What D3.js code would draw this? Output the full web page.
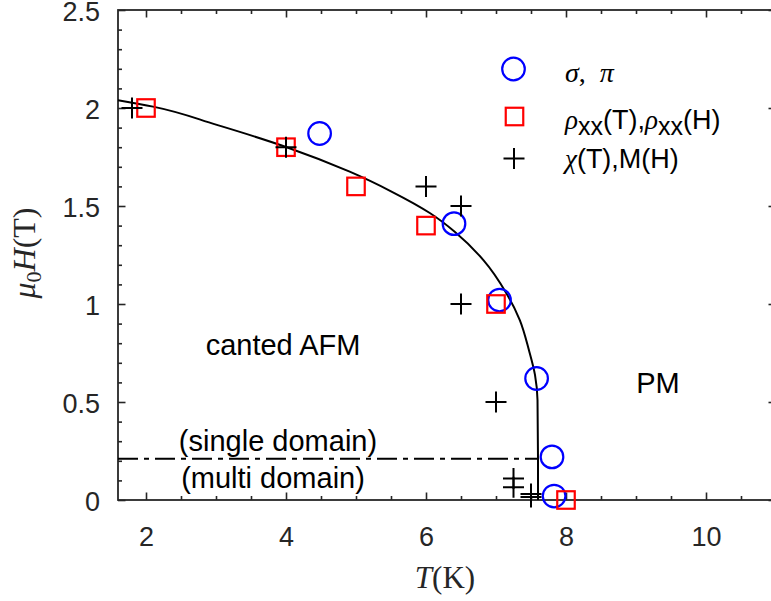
<!DOCTYPE html>
<html>
<head>
<meta charset="utf-8">
<script src="https://cdn.jsdelivr.net/npm/d3@7"></script>
<style>
  html, body { margin: 0; padding: 0; background: #fff; }
  svg { display: block; }
</style>
</head>
<body>
<svg id="chart" width="771" height="601"></svg>
<script>
// Phase diagram: critical field vs temperature

// sigma, pi measurements
const circleT = [4.48, 6.4, 7.05, 7.58, 7.8, 7.83];
const circleH = [1.87, 1.41, 1.02, 0.62, 0.22, 0.02];

// rho_xx(T), rho_xx(H) measurements
const squareT = [2, 4, 5, 6, 7, 8];
const squareH = [2.0, 1.8, 1.6, 1.4, 1.0, 0.0];

// chi(T), M(H) measurements
const crossT = [1.8, 4, 6, 6.5, 6.5, 7, 7.25, 7.25, 7.5, 7.5];
const crossH = [2.0, 1.8, 1.6, 1.5, 1.0, 0.5, 0.11, 0.065, 0.03, 0.015];

// phase boundary line
const boundaryT = [1.6, 2.1, 3.0, 4.01, 4.91, 5.5, 6.06, 6.41, 6.82, 7.15, 7.34, 7.47, 7.557, 7.593, 7.6, 7.6];
const boundaryH = [2.04, 2.007, 1.915, 1.80, 1.675, 1.575, 1.463, 1.369, 1.224, 1.054, 0.918, 0.765, 0.638, 0.51, 0.21, 0.0];

// single / multi domain separation
const domainLineT = [1.6, 7.6];
const domainLineH = [0.21, 0.21];

// axis ticks
const xMajor = [2, 4, 6, 8, 10];
const xMinor = [2.5, 3, 3.5, 4.5, 5, 5.5, 6.5, 7, 7.5, 8.5, 9, 9.5, 10.5];
const yMajor = [0, 0.5, 1, 1.5, 2, 2.5];
const yMinor = [0.1, 0.2, 0.3, 0.4, 0.6, 0.7, 0.8, 0.9, 1.1, 1.2, 1.3, 1.4, 1.6, 1.7, 1.8, 1.9, 2.1, 2.2, 2.3, 2.4];

const svg = d3.select("#chart");
const axisColor = "#262626";
const sans = "'Liberation Sans', Arial, Helvetica, sans-serif";
const serif = "'Liberation Serif', 'Times New Roman', serif";

const x = d3.scaleLinear().domain([1.6, 11]).range([118, 776]);
const y = d3.scaleLinear().domain([0, 2.5]).range([500, 10]);

const plotLeft = x.range()[0], plotRight = x.range()[1];
const plotTop = y.range()[1], plotBottom = y.range()[0];

// ---- axes frame and ticks ----
function styleAxis(g) {
  g.select(".domain").remove();
  g.selectAll(".tick line").attr("stroke", axisColor).attr("stroke-width", 1.6);
  g.selectAll(".tick text")
    .attr("fill", axisColor)
    .style("font-family", sans)
    .style("font-size", "27px");
}
const fmt = d => String(d);

svg.append("g").attr("transform", `translate(0,${plotBottom})`)
  .call(d3.axisBottom(x).tickValues(xMajor).tickFormat(fmt).tickSize(-7.5).tickPadding(27))
  .call(styleAxis);
svg.append("g").attr("transform", `translate(0,${plotBottom})`)
  .call(d3.axisBottom(x).tickValues(xMinor).tickFormat("").tickSize(-4))
  .call(styleAxis);
svg.append("g").attr("transform", `translate(0,${plotTop})`)
  .call(d3.axisTop(x).tickValues(xMajor).tickFormat("").tickSize(-7.5))
  .call(styleAxis);
svg.append("g").attr("transform", `translate(0,${plotTop})`)
  .call(d3.axisTop(x).tickValues(xMinor).tickFormat("").tickSize(-4))
  .call(styleAxis);

svg.append("g").attr("transform", `translate(${plotLeft},0)`)
  .call(d3.axisLeft(y).tickValues(yMajor).tickFormat(fmt).tickSize(-7.5).tickPadding(18))
  .call(styleAxis)
  .call(g => g.selectAll(".tick text").attr("dy", "0.4em"));
svg.append("g").attr("transform", `translate(${plotLeft},0)`)
  .call(d3.axisLeft(y).tickValues(yMinor).tickFormat("").tickSize(-4))
  .call(styleAxis);
svg.append("g").attr("transform", `translate(${plotRight},0)`)
  .call(d3.axisRight(y).tickValues(yMajor).tickFormat("").tickSize(-7.5))
  .call(styleAxis);
svg.append("g").attr("transform", `translate(${plotRight},0)`)
  .call(d3.axisRight(y).tickValues(yMinor).tickFormat("").tickSize(-4))
  .call(styleAxis);

svg.append("rect")
  .attr("x", plotLeft).attr("y", plotTop)
  .attr("width", plotRight - plotLeft).attr("height", plotBottom - plotTop)
  .attr("fill", "none").attr("stroke", axisColor).attr("stroke-width", 1.8);

// ---- axis titles ----
const xTitle = svg.append("text")
  .attr("x", 445).attr("y", 588)
  .attr("text-anchor", "middle")
  .attr("fill", axisColor)
  .style("font-family", serif).style("font-size", "31px");
xTitle.append("tspan").style("font-style", "italic").text("T");
xTitle.append("tspan").text("(K)");

const yTitle = svg.append("text")
  .attr("transform", "translate(35,253) rotate(-90)")
  .attr("text-anchor", "middle")
  .attr("fill", axisColor)
  .style("font-family", serif).style("font-size", "32px");
yTitle.append("tspan").style("font-style", "italic").text("μ");
yTitle.append("tspan").attr("dy", 6).style("font-size", "22px").text("0");
yTitle.append("tspan").attr("dy", -6).style("font-style", "italic").text("H");
yTitle.append("tspan").text("(T)");

// ---- phase boundary ----
const boundary = boundaryT.map((t, i) => [t, boundaryH[i]]);
svg.append("path")
  .datum(boundary)
  .attr("d", d3.line().x(d => x(d[0])).y(d => y(d[1])).curve(d3.curveMonotoneY))
  .attr("fill", "none").attr("stroke", "#000").attr("stroke-width", 2);

const domainLine = domainLineT.map((t, i) => [t, domainLineH[i]]);
svg.append("path")
  .datum(domainLine)
  .attr("d", d3.line().x(d => x(d[0])).y(d => y(d[1])))
  .attr("fill", "none").attr("stroke", "#000").attr("stroke-width", 2)
  .attr("stroke-dasharray", "20,6,5,6");

// ---- markers ----
const circleR = 11.3, squareS = 17.5, crossArm = 10.5;

function drawCircle(g, cx, cy) {
  g.append("circle").attr("cx", cx).attr("cy", cy).attr("r", circleR)
    .attr("fill", "none").attr("stroke", "#0000ff").attr("stroke-width", 2.2);
}
function drawSquare(g, cx, cy) {
  g.append("rect").attr("x", cx - squareS / 2).attr("y", cy - squareS / 2)
    .attr("width", squareS).attr("height", squareS)
    .attr("fill", "none").attr("stroke", "#ff0000").attr("stroke-width", 2.2);
}
function drawCross(g, cx, cy) {
  g.append("path")
    .attr("d", `M${cx - crossArm},${cy}H${cx + crossArm}M${cx},${cy - crossArm}V${cy + crossArm}`)
    .attr("fill", "none").attr("stroke", "#000").attr("stroke-width", 2);
}

const marks = svg.append("g");
circleT.forEach((t, i) => drawCircle(marks, x(t), y(circleH[i])));
squareT.forEach((t, i) => drawSquare(marks, x(t), y(squareH[i])));
crossT.forEach((t, i) => drawCross(marks, x(t), y(crossH[i])));

// ---- legend ----
const legend = svg.append("g");
drawCircle(legend, 513.5, 69);
drawSquare(legend, 514.5, 116.5);
drawCross(legend, 514, 158.5);

const l1 = legend.append("text").attr("x", 565).attr("y", 82)
  .style("font-family", serif).style("font-size", "28px").attr("fill", "#000")
  .attr("xml:space", "preserve").style("white-space", "pre");
l1.append("tspan").style("font-style", "italic").text("σ");
l1.append("tspan").text(",  ");
l1.append("tspan").style("font-style", "italic").text("π");

const l2 = legend.append("text").attr("x", 565).attr("y", 129)
  .style("font-family", sans).style("font-size", "27px").attr("fill", "#000");
l2.append("tspan").style("font-family", serif).style("font-style", "italic").text("ρ");
l2.append("tspan").attr("dy", 6).style("font-size", "25px").text("xx");
l2.append("tspan").attr("dy", -6).text("(T),");
l2.append("tspan").style("font-family", serif).style("font-style", "italic").text("ρ");
l2.append("tspan").attr("dy", 6).style("font-size", "25px").text("xx");
l2.append("tspan").attr("dy", -6).text("(H)");

const l3 = legend.append("text").attr("x", 565).attr("y", 168)
  .style("font-family", sans).style("font-size", "27px").attr("fill", "#000");
l3.append("tspan").style("font-family", serif).style("font-style", "italic").text("χ");
l3.append("tspan").text("(T),M(H)");

// ---- region annotations ----
const notes = [
  { text: "canted AFM", x: 283, y: 355 },
  { text: "PM", x: 658, y: 393 },
  { text: "(single domain)", x: 278, y: 451 },
  { text: "(multi domain)", x: 273, y: 488 }
];
svg.append("g").selectAll("text").data(notes).join("text")
  .attr("x", d => d.x).attr("y", d => d.y)
  .attr("text-anchor", "middle")
  .attr("fill", "#000")
  .style("font-family", sans).style("font-size", "29px")
  .text(d => d.text);
</script>
</body>
</html>
